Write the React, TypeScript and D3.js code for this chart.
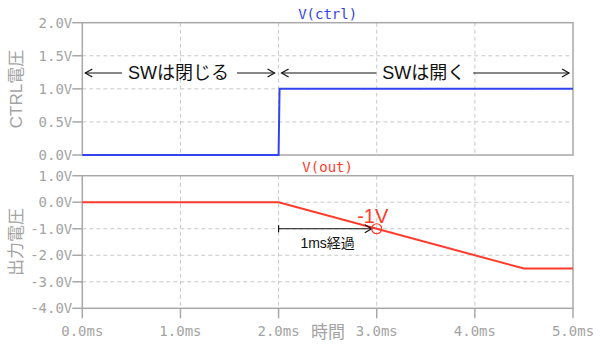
import React from "react";
import * as d3 from "d3";

// Time axis (ms)
const timeTicks = [0, 1, 2, 3, 4, 5];
const timeTickLabels = ["0.0ms", "1.0ms", "2.0ms", "3.0ms", "4.0ms", "5.0ms"];

// Control voltage V(ctrl)
const ctrlTime = [0, 2.0, 2.01, 5.0];
const ctrlVolt = [0, 0, 1.0, 1.0];
const ctrlTicks = [0, 0.5, 1.0, 1.5, 2.0];
const ctrlTickLabels = ["0.0V", "0.5V", "1.0V", "1.5V", "2.0V"];

// Output voltage V(out)
const outTime = [0, 2.0, 4.5, 5.0];
const outVolt = [0, 0, -2.5, -2.5];
const outTicks = [-4, -3, -2, -1, 0, 1];
const outTickLabels = ["-4.0V", "-3.0V", "-2.0V", "-1.0V", "0.0V", "1.0V"];

// Switch-state annotations (ms spans)
const switchSpans = [
  { from: 0, to: 2, label: "SWは閉じる" },
  { from: 2, to: 5, label: "SWは開く" },
];
// Marked point on V(out)
const markTime = 3.0;
const markVolt = -1.0;
const markLabel = "-1V";
const elapsedLabel = "1ms経過";

const W = 600;
const H = 352;
const left = 82.3;
const right = 573;
const topA = 22.7;
const botA = 155;
const topB = 175.7;
const botB = 308.3;

const BLUE = "#3344ee";
const RED = "#ff3b2b";
const FRAME = "#a8a8a8";
const GRID = "#c8c8c8";
const TICKTXT = "#a3a3a3";
const MONO = "'DejaVu Sans Mono', monospace";
const SANS = "'Liberation Sans', 'Noto Sans CJK JP', sans-serif";
const CJK = "'Noto Sans CJK JP', 'Liberation Sans', sans-serif";

function textWidth(s: string, font: string): number {
  const c = document.createElement("canvas").getContext("2d");
  if (!c) return s.length * 10;
  c.font = font;
  return c.measureText(s).width;
}

export default function App() {
  const x = d3.scaleLinear().domain([0, 5]).range([left, right]);
  const yA = d3.scaleLinear().domain([0, 2]).range([botA, topA]);
  const yB = d3.scaleLinear().domain([-4, 1]).range([botB, topB]);

  const ctrlLine = d3
    .line<number>()
    .x((_, i) => x(ctrlTime[i]))
    .y((v) => yA(v))(ctrlVolt);
  const outLine = d3
    .line<number>()
    .x((_, i) => x(outTime[i]))
    .y((v) => yB(v))(outVolt);

  const annFont = `18px ${SANS}`;
  const annY = 73;

  const arrowLeft = (px: number, py: number) =>
    `M${px + 7},${py - 4} L${px},${py} L${px + 7},${py + 4}`;
  const arrowRight = (px: number, py: number) =>
    `M${px - 7},${py - 4} L${px},${py} L${px - 7},${py + 4}`;

  const mx = x(markTime);
  const my = yB(markVolt);

  return (
    <svg width={W} height={H} style={{ position: "absolute", left: 0, top: 0, background: "#fff" }}>
      {/* Grid: top panel */}
      {timeTicks.slice(1, -1).map((t) => (
        <line key={"ga" + t} x1={x(t)} x2={x(t)} y1={topA} y2={botA} stroke={GRID} strokeDasharray="4,3" />
      ))}
      {ctrlTicks.slice(1, -1).map((v) => (
        <line key={"gha" + v} x1={left} x2={right} y1={yA(v)} y2={yA(v)} stroke={GRID} strokeDasharray="4,3" />
      ))}
      {/* Grid: bottom panel */}
      {timeTicks.slice(1, -1).map((t) => (
        <line key={"gb" + t} x1={x(t)} x2={x(t)} y1={topB} y2={botB} stroke={GRID} strokeDasharray="4,3" />
      ))}
      {outTicks.slice(1, -1).map((v) => (
        <line key={"ghb" + v} x1={left} x2={right} y1={yB(v)} y2={yB(v)} stroke={GRID} strokeDasharray="4,3" />
      ))}

      {/* Frames */}
      <rect x={left} y={topA} width={right - left} height={botA - topA} fill="none" stroke={FRAME} strokeWidth={1.5} />
      <rect x={left} y={topB} width={right - left} height={botB - topB} fill="none" stroke={FRAME} strokeWidth={1.5} />

      {/* Y ticks and labels */}
      {ctrlTicks.map((v, i) => (
        <g key={"ya" + v}>
          <line x1={left - 10} x2={left} y1={yA(v)} y2={yA(v)} stroke={FRAME} strokeWidth={1.5} />
          <text x={left - 10} y={yA(v)} dy="0.35em" textAnchor="end" fontFamily={MONO} fontSize={14} fill={TICKTXT}>
            {ctrlTickLabels[i]}
          </text>
        </g>
      ))}
      {outTicks.map((v, i) => (
        <g key={"yb" + v}>
          <line x1={left - 10} x2={left} y1={yB(v)} y2={yB(v)} stroke={FRAME} strokeWidth={1.5} />
          <text x={left - 10} y={yB(v)} dy="0.35em" textAnchor="end" fontFamily={MONO} fontSize={14} fill={TICKTXT}>
            {outTickLabels[i]}
          </text>
        </g>
      ))}

      {/* X ticks and labels */}
      {timeTicks.map((t, i) => (
        <g key={"x" + t}>
          <line x1={x(t)} x2={x(t)} y1={botB} y2={botB + 10} stroke={FRAME} strokeWidth={1.5} />
          <text x={x(t)} y={336} textAnchor="middle" fontFamily={MONO} fontSize={14} fill={TICKTXT}>
            {timeTickLabels[i]}
          </text>
        </g>
      ))}

      {/* Axis titles */}
      <text transform={`translate(22,89) rotate(-90)`} textAnchor="middle" fontFamily={SANS} fontSize={17} fill={TICKTXT}>
        CTRL電圧
      </text>
      <text transform={`translate(22,242) rotate(-90)`} textAnchor="middle" fontFamily={CJK} fontSize={17} fill={TICKTXT}>
        出力電圧
      </text>
      <text x={328} y={338} textAnchor="middle" fontFamily={CJK} fontSize={17} fill={TICKTXT}>
        時間
      </text>

      {/* Trace titles */}
      <text x={(left + right) / 2} y={19} textAnchor="middle" fontFamily={MONO} fontSize={14} fill={BLUE}>
        V(ctrl)
      </text>
      <text x={(left + right) / 2} y={172} textAnchor="middle" fontFamily={MONO} fontSize={14} fill={RED}>
        V(out)
      </text>

      {/* Traces */}
      <path d={ctrlLine ?? ""} fill="none" stroke={BLUE} strokeWidth={2} />
      <path d={outLine ?? ""} fill="none" stroke={RED} strokeWidth={2} />

      {/* Switch-state annotations */}
      {switchSpans.map((s) => {
        const x0 = x(s.from) + 3;
        const x1 = x(s.to) - 4;
        const cx = (x(s.from) + x(s.to)) / 2 - 2;
        const tw = textWidth(s.label, annFont);
        return (
          <g key={s.label} stroke="#111" strokeWidth={1.2} fill="none">
            <line x1={x0} x2={cx - tw / 2 - 6} y1={annY} y2={annY} />
            <path d={arrowLeft(x0, annY)} />
            <line x1={cx + tw / 2 + 8} x2={x1} y1={annY} y2={annY} />
            <path d={arrowRight(x1, annY)} />
            <text x={cx} y={annY} dy="0.36em" textAnchor="middle" fontFamily={SANS} fontSize={18} fill="#111" stroke="none">
              {s.label}
            </text>
          </g>
        );
      })}

      {/* Elapsed-time arrow and marked point */}
      <g stroke="#111" strokeWidth={1.2} fill="none">
        <line x1={x(2)} x2={x(2)} y1={my - 3.5} y2={my + 3.5} />
        <line x1={x(2)} x2={mx - 5} y1={my} y2={my} />
        <path d={arrowRight(mx - 5, my)} />
      </g>
      <text x={(x(2) + mx) / 2} y={my + 19} textAnchor="middle" fontFamily={SANS} fontSize={14} fill="#111">
        {elapsedLabel}
      </text>
      <circle cx={mx} cy={my} r={5} fill="none" stroke={RED} strokeWidth={1.2} />
      <text x={mx - 4} y={my - 6} textAnchor="middle" fontFamily={SANS} fontSize={20} fill={RED}>
        {markLabel}
      </text>
    </svg>
  );
}
